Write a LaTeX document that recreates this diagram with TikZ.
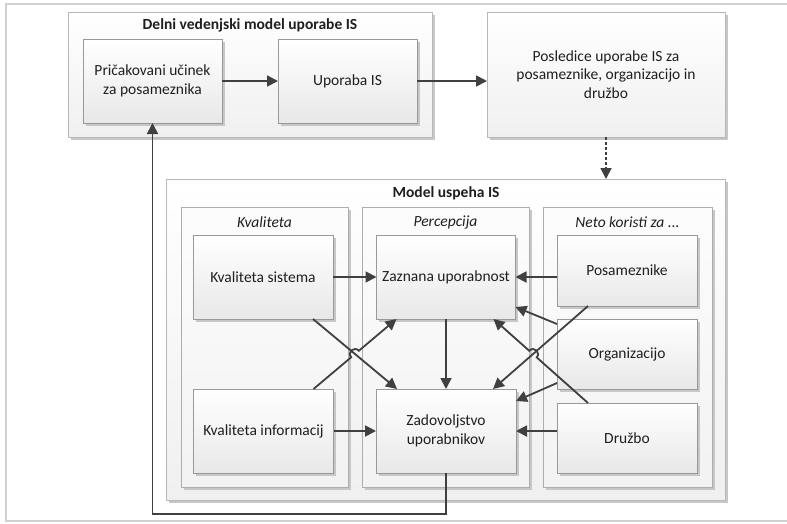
\documentclass[tikz,border=0pt]{standalone}
\usepackage{fontspec}
\setmainfont{Carlito}
\usetikzlibrary{arrows.meta,calc,shadows}

\begin{document}
\begin{tikzpicture}[x=1pt,y=-1pt,
  every node/.style={font=\fontsize{15.5}{18.5}\selectfont, text=black!88, align=center, inner sep=0pt, outer sep=0pt},
  shadowed/.style={drop shadow={shadow xshift=2.5pt, shadow yshift=-2.5pt, fill=black!22, opacity=1}},
  panel/.style={shadowed, draw=black!28, line width=0.9pt, top color=white, bottom color=black!6},
  column/.style={shadowed, draw=black!32, line width=0.9pt, top color=black!1, bottom color=black!5},
  box/.style={shadowed, draw=black!40, line width=0.9pt, top color=white, bottom color=black!9},
  title/.style={font=\fontsize{15.5}{18.5}\selectfont\bfseries},
  coltitle/.style={font=\fontsize{15.5}{18.5}\selectfont\itshape},
  conn/.style={draw=black!75, line width=1.8pt, -{Triangle[length=11pt,width=11pt]}},
  dotconn/.style={conn, dash pattern=on 3pt off 2pt},
  plain/.style={draw=black!75, line width=1.8pt}
]
\useasboundingbox (0,0) rectangle (787,523);

% page frame
\draw[black!18, line width=2.5pt] (787,4) -- (6,4) -- (6,521) -- (787,521);

% upper part: partial behavioural model and consequences
\node[panel, minimum width=364, minimum height=125] (delni) at (250,74.5) {};
\node[title] (delniT) at (250,25) {Delni vedenjski model uporabe IS};
\node[box, minimum width=139, minimum height=84] (pric) at (152.5,81) {Pričakovani učinek\\za posameznika};
\node[box, minimum width=139, minimum height=84] (upo) at (347.5,81) {Uporaba IS};
\node[panel, minimum width=238, minimum height=125] (posl) at (606,74.5) {Posledice uporabe IS za\\posameznike, organizacijo in\\družbo};

% IS success model
\node[panel, minimum width=559, minimum height=321] (model) at (445.5,339.5) {};
\node[title] (modelT) at (446,193) {Model uspeha IS};

\node[column, minimum width=167, minimum height=280] (colK) at (264.5,347) {};
\node[column, minimum width=167, minimum height=280] (colP) at (445.5,347) {};
\node[column, minimum width=169, minimum height=280] (colN) at (627.5,347) {};
\node[coltitle] (colKT) at (264.5,222) {Kvaliteta};
\node[coltitle] (colPT) at (445.5,222) {Percepcija};
\node[coltitle] (colNT) at (627.5,222) {Neto koristi za ...};

\node[box, minimum width=140, minimum height=84] (ks) at (263,277) {Kvaliteta sistema};
\node[box, minimum width=140, minimum height=84] (ki) at (263.5,431) {Kvaliteta informacij};
\node[box, minimum width=139, minimum height=84] (zu) at (446,277) {Zaznana uporabnost};
\node[box, minimum width=140, minimum height=84] (zad) at (446,431) {Zadovoljstvo\\uporabnikov};
\node[box, minimum width=140, minimum height=71] (pos) at (627,270.5) {Posameznike};
\node[box, minimum width=140, minimum height=70] (org) at (627,354) {Organizacijo};
\node[box, minimum width=140, minimum height=70] (dru) at (627,438) {Družbo};

% upper connectors
\draw[conn] (pric) -- (upo);
\draw[conn] (upo.east) -- (upo.east -| posl.west);
\draw[dotconn] (posl.south) -- (posl.south |- model.north);

% straight connectors inside the success model
\draw[conn] (ks) -- (zu);
\draw[conn] (ki) -- (zad);
\draw[conn] (zu) -- (zad);
\draw[conn] (pos.west |- zu.east) -- (zu.east);
\draw[conn] (dru.west |- zad.east) -- (zad.east);

% diagonal attachment points
\coordinate (ksA)  at ($(ks.south east)+(-20,0)$);
\coordinate (zadA) at ($(zad.north west)+(21,0)$);
\coordinate (kiA)  at ($(ki.north east)+(-20,0)$);
\coordinate (zuA)  at ($(zu.south west)+(20,0)$);
\coordinate (orgA) at ($(org.north west)+(0,5)$);
\coordinate (zuC)  at ($(zu.south east)+(0,-12)$);
\coordinate (orgB) at ($(org.south west)+(0,-6)$);
\coordinate (zadC) at ($(zad.north east)+(0,12)$);
\coordinate (posA) at ($(pos.south west)+(31,0)$);
\coordinate (zadB) at ($(zad.north east)+(-23,0)$);
\coordinate (druA) at ($(dru.north west)+(31,0)$);
\coordinate (zuB)  at ($(zu.south east)+(-22,0)$);

\coordinate (hopL) at (intersection of ksA--zadA and kiA--zuA);
\coordinate (hopR) at (intersection of posA--zadB and druA--zuB);

\draw[conn] (ksA) -- (zadA);
\draw[conn] (kiA) -- ($(hopL)!5pt!(kiA)$) to[bend left=90, looseness=1.7] ($(hopL)!5pt!(zuA)$) -- (zuA);
\draw[conn] (posA) -- (zadB);
\draw[conn] (druA) -- ($(hopR)!5pt!(druA)$) to[bend right=90, looseness=1.7] ($(hopR)!5pt!(zuB)$) -- (zuB);
\draw[conn] (orgA) -- (zuC);
\draw[conn] (orgB) -- (zadC);

% feedback loop
\draw[conn] (zad.south) -- ++(0,41) -| (pric.south);
\end{tikzpicture}
\end{document}
